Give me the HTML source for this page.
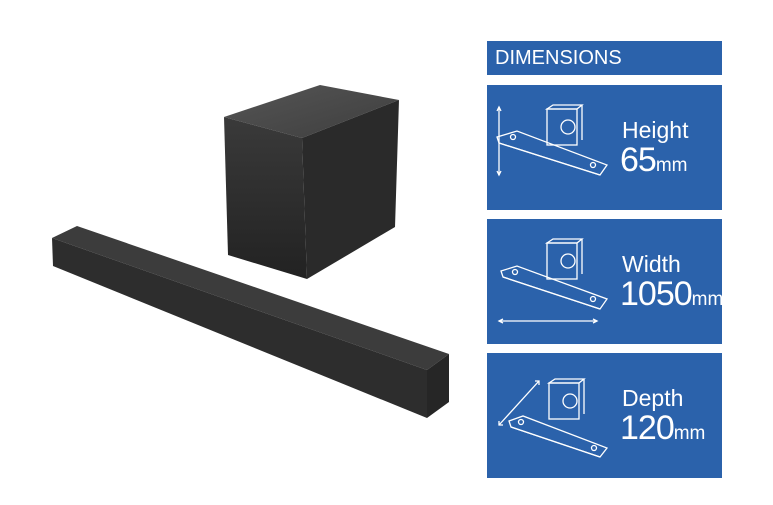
<!DOCTYPE html>
<html><head><style>
body{margin:0;width:773px;height:505px;background:#fff;position:relative;overflow:hidden;font-family:"Liberation Sans",sans-serif}
.p{position:absolute;left:487px;width:235px;background:#2b62ab;overflow:hidden;color:#fff}
.t{position:absolute;left:135px;font-size:23px}
.n{position:absolute;left:133px;font-size:34px;white-space:nowrap;letter-spacing:-1px}
.n small{font-size:19px;letter-spacing:0}
</style></head><body>
<svg width="773" height="505" style="position:absolute;left:0;top:0">
<defs>
<linearGradient id="g" x1="0" y1="0" x2="0" y2="1"><stop offset="0" stop-color="#3a3a3a"/><stop offset="1" stop-color="#222"/></linearGradient>
<linearGradient id="tg" x1="0" y1="0" x2="1" y2="1"><stop offset="0" stop-color="#555"/><stop offset="1" stop-color="#3e3e3e"/></linearGradient>
</defs>
<polygon points="224,117 320,85 399,100 302,138" fill="url(#tg)"/>
<polygon points="224,117 302,138 307,279 228,255" fill="url(#g)"/>
<polygon points="302,138 399,100 395,227 307,279" fill="#2a2a2a"/>
<polygon points="52,238 77,226 449,354 427,370" fill="#3c3c3c"/>
<polygon points="52,238 427,370 427,418 53,266" fill="#2d2d2d"/>
<polygon points="427,370 449,354 449,402 427,418" fill="#262626"/>
</svg>
<div class="p" style="top:41px;height:34px"><div style="position:absolute;left:8px;top:6px;font-size:20px">DIMENSIONS</div></div>

<div class="p" style="top:85px;height:125px">
<svg width="130" height="125" style="position:absolute;left:0;top:0" fill="none" stroke="#fff" stroke-width="1.3">
<line x1="12" y1="22" x2="12" y2="90"/><path d="M10,26 12,22 14,26M10,86 12,90 14,86"/>
<rect x="60" y="24" width="30" height="36"/><polygon points="60,24 66,20 95,20 90,24"/><line x1="95" y1="20" x2="95" y2="55"/><circle cx="81" cy="42" r="7"/>
<polygon points="10,52 30,46 120,80 113,90 12,58"/><line x1="12" y1="58" x2="113" y2="90"/>
<circle cx="26" cy="52" r="2.5"/><circle cx="106" cy="80" r="2.5"/>
</svg>
<div class="t" style="top:32px">Height</div><div class="n" style="top:56px">65<small>mm</small></div></div>

<div class="p" style="top:219px;height:125px">
<svg width="130" height="125" style="position:absolute;left:0;top:0" fill="none" stroke="#fff" stroke-width="1.3">
<line x1="12" y1="102" x2="110" y2="102"/><path d="M16,100 12,102 16,104M106,100 110,102 106,104"/>
<rect x="60" y="24" width="30" height="36"/><polygon points="60,24 66,20 95,20 90,24"/><line x1="95" y1="20" x2="95" y2="55"/><circle cx="81" cy="42" r="7"/>
<polygon points="14,52 30,47 120,80 113,90 16,58"/><line x1="16" y1="58" x2="113" y2="90"/>
<circle cx="28" cy="53" r="2.5"/><circle cx="106" cy="80" r="2.5"/>
</svg>
<div class="t" style="top:32px">Width</div><div class="n" style="top:56px">1050<small>mm</small></div></div>

<div class="p" style="top:353px;height:125px">
<svg width="130" height="125" style="position:absolute;left:0;top:0" fill="none" stroke="#fff" stroke-width="1.3">
<line x1="12" y1="72" x2="52" y2="28"/><path d="M48,28 52,28 52,32M12,68 12,72 16,72"/>
<rect x="62" y="30" width="30" height="36"/><polygon points="62,30 68,26 97,26 92,30"/><line x1="97" y1="26" x2="97" y2="61"/><circle cx="83" cy="48" r="7"/>
<polygon points="22,68 36,63 120,95 113,104 24,74"/><line x1="24" y1="74" x2="113" y2="104"/>
<circle cx="34" cy="69" r="2.5"/><circle cx="107" cy="95" r="2.5"/>
</svg>
<div class="t" style="top:32px">Depth</div><div class="n" style="top:56px">120<small>mm</small></div></div>
</body></html>
